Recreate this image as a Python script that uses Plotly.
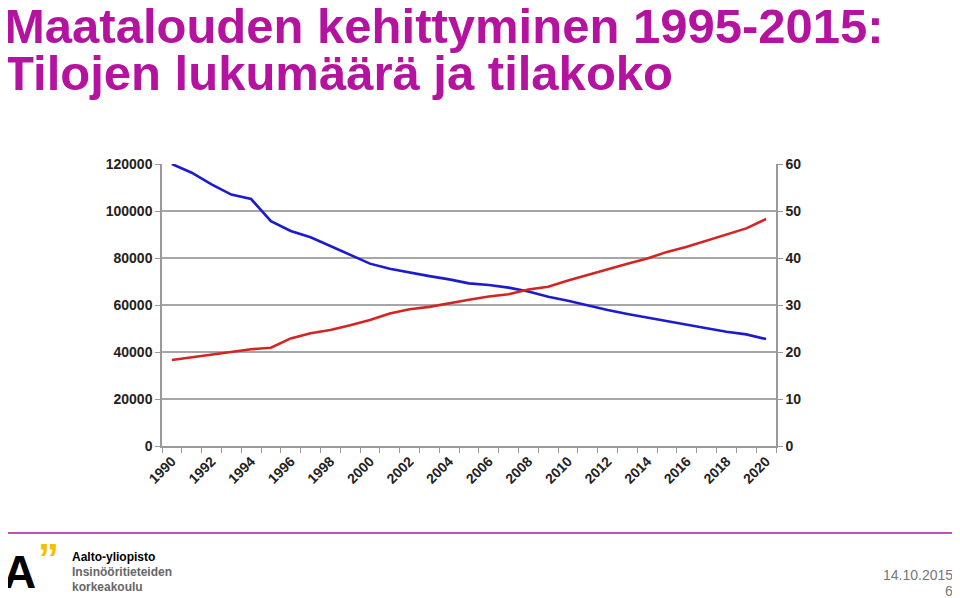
import plotly.graph_objects as go

years = list(range(1990, 2021))
# tilojen lukumäärä (vasen akseli)
farms = [120000, 116300, 111300, 107000, 105100, 95700, 91500, 88800, 85100, 81300,
         77600, 75400, 73700, 72300, 70900, 69200, 68500, 67400, 65700, 63500,
         61800, 59700, 57900, 56200, 54600, 53200, 51600, 50100, 48600, 47500, 45500]
# keskimääräinen tilakoko, ha (oikea akseli)
size_ha = [18.3, 18.9, 19.4, 20.1, 20.6, 20.9, 22.9, 24.0, 24.7, 25.7,
           26.8, 28.2, 29.1, 29.6, 30.4, 31.1, 31.8, 32.3, 33.3, 33.9,
           35.2, 36.4, 37.7, 38.8, 39.9, 41.3, 42.4, 43.7, 45.0, 46.3, 48.3]
x_labels = list(range(1990, 2021, 2))

# sivun oletusmarginaali 8 px
OFF = 8
L, R, T, B = 162, 776, 164, 446
W, H = R - L, B - T
px = lambda x: (x - L) / W
py = lambda y: (B - y) / H

purple = "#b4139f"
font_name = "Liberation Sans, Arial"
tickfont = dict(family=font_name, size=14, color="#222", weight="bold")

fig = go.Figure()
fig.add_trace(go.Scatter(x=years, y=farms, mode="lines",
                         line=dict(color="#1c1ccc", width=2.6), showlegend=False))
fig.add_trace(go.Scatter(x=years, y=size_ha, mode="lines", yaxis="y2",
                         line=dict(color="#d42424", width=2.6), showlegend=False))

fig.update_layout(
    width=960 - OFF, height=598 - OFF,
    margin=dict(l=L - OFF, r=960 - R, t=T - OFF, b=598 - B),
    plot_bgcolor="white", paper_bgcolor="white",
    xaxis=dict(range=[1989.5, 2020.5], tickvals=x_labels, ticktext=[str(v) for v in x_labels],
               tickangle=-45, tickfont=tickfont, showgrid=False, ticks="",
               showline=True, linecolor="#999", linewidth=1.5,
               minor=dict(tick0=1989.5, dtick=1, ticks="outside", ticklen=5,
                          tickcolor="#999", showgrid=False)),
    yaxis=dict(range=[0, 120000], dtick=20000, tickformat="d", tickfont=tickfont, showgrid=True,
               gridcolor="#a6a6a6", gridwidth=1.5, showline=True, linecolor="#999",
               linewidth=1.5, ticks="outside", ticklen=5, tickcolor="#999", zeroline=False),
    yaxis2=dict(range=[0, 60], dtick=10, overlaying="y", side="right", tickfont=tickfont,
                showgrid=False, showline=True, linecolor="#999", linewidth=1.5,
                ticks="outside", ticklen=5, tickcolor="#999", zeroline=False),
)

def text(x, y, s, size, color, anchor="left"):
    fig.add_annotation(xref="paper", yref="paper", x=px(x), y=py(y), xanchor=anchor,
                       yanchor="middle", showarrow=False, text=s,
                       font=dict(family=font_name, size=size, color=color))

text(2, 26, "<b>Maatalouden kehittyminen 1995-2015:</b>", 49, purple)
text(2, 73, "<b>Tilojen lukumäärä ja tilakoko</b>", 49, purple)

# alatunniste
fig.add_shape(type="line", xref="paper", yref="paper", x0=px(5), x1=px(955),
              y0=py(533), y1=py(533), line=dict(color=purple, width=1.5))
text(1, 572, "<b>A</b>", 46, "black")
text(36, 558, "<b>”</b>", 42, "#f2c200")
text(70, 557, "<b>Aalto-yliopisto</b>", 12, "black")
text(70, 572, "<b>Insinööritieteiden</b>", 12, "#666")
text(70, 587, "<b>korkeakoulu</b>", 12, "#666")
text(955, 575, "14.10.2015", 14, "#777", "right")
text(955, 591, "6", 14, "#777", "right")

fig.write_html("out.html")
